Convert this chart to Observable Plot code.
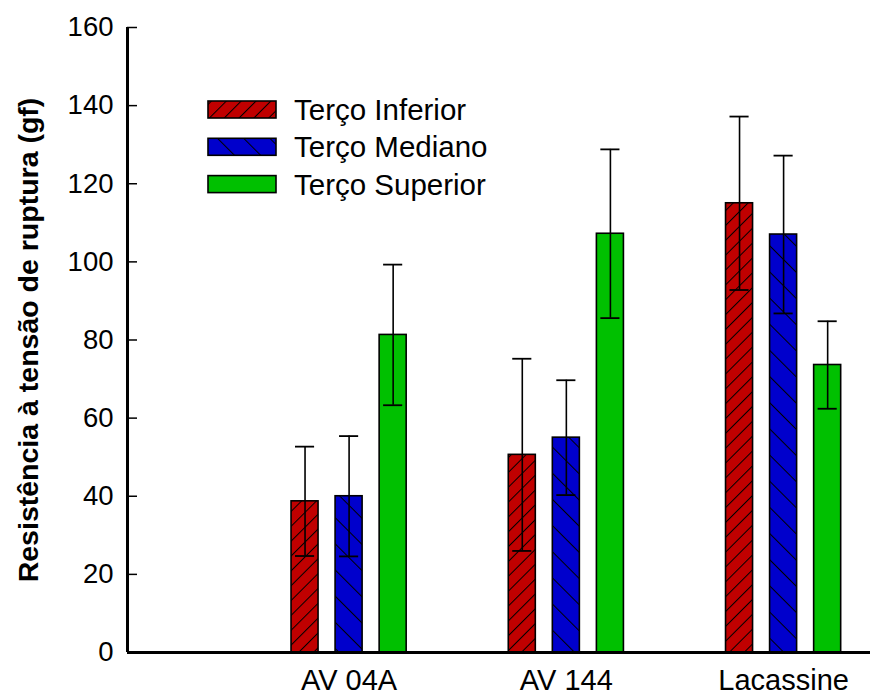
<!DOCTYPE html>
<html>
<head>
<meta charset="utf-8">
<script src="https://cdn.jsdelivr.net/npm/d3@7"></script>
<script src="https://cdn.jsdelivr.net/npm/@observablehq/plot@0.6"></script>
<style>
  html, body { margin: 0; padding: 0; background: #fff; }
  #chart { width: 870px; height: 696px; }
</style>
</head>
<body>
<div id="chart"></div>
<script>
// Cultivars (x groups) and position on the panicle (series)
const groups = ["AV 04A", "AV 144", "Lacassine"];
const series = ["Terço Inferior", "Terço Mediano", "Terço Superior"];

// Mean breaking tension (gf) and its deviation, per series, in group order
const inferior = [38.7, 50.6, 115.0];
const inferiorErr = [14.0, 24.6, 22.2];
const mediano = [40.0, 55.0, 107.0];
const medianoErr = [15.4, 14.7, 20.2];
const superior = [81.3, 107.2, 73.6];
const superiorErr = [18.0, 21.6, 11.2];

const yTicks = [0, 20, 40, 60, 80, 100, 120, 140, 160];
const yLabel = "Resistência à tensão de ruptura (gf)";

// Fill colours / hatch patterns per series
const seriesColors = ["#c00000", "#0000cc", "#00c000"];
const seriesFills = ["url(#hatch-inferior)", "url(#hatch-mediano)", "#00c000"];

// Layout (in group units along x)
const barStep = 0.2028;
const barWidth = 0.1244;
const capHalf = 0.044;
const xDomain = [-0.02, 3.40];

const means = [inferior, mediano, superior];
const errs = [inferiorErr, medianoErr, superiorErr];

const rows = [];
series.forEach((s, si) => {
  groups.forEach((g, gi) => {
    const c = gi + 1 + (si - 1) * barStep;
    rows.push({
      series: s, si, group: g,
      value: means[si][gi], err: errs[si][gi],
      x1: c - barWidth / 2, x2: c + barWidth / 2, xc: c,
      lo: means[si][gi] - errs[si][gi], hi: means[si][gi] + errs[si][gi]
    });
  });
});

const font = "'Liberation Sans', Arial, Helvetica, sans-serif";

const barMarks = series.map((s, si) =>
  Plot.rectY(rows.filter(d => d.si === si), {
    x1: "x1", x2: "x2", y1: 0, y2: "value",
    fill: seriesFills[si], stroke: "#000", strokeWidth: 1.6
  })
);

const plot = Plot.plot({
  width: 870,
  height: 696,
  marginLeft: 127,
  marginRight: 0,
  marginTop: 27,
  marginBottom: 44,
  style: { fontFamily: font, fontSize: "27px", color: "#000", background: "#fff" },
  x: { domain: xDomain, axis: null },
  y: { domain: [0, 160], axis: null },
  marks: [
    ...barMarks,
    // error bars
    Plot.ruleX(rows, { x: "xc", y1: "lo", y2: "hi", stroke: "#000", strokeWidth: 1.6 }),
    Plot.ruleY(rows, { y: "hi", x1: d => d.xc - capHalf, x2: d => d.xc + capHalf, stroke: "#000", strokeWidth: 1.8 }),
    Plot.ruleY(rows, { y: "lo", x1: d => d.xc - capHalf, x2: d => d.xc + capHalf, stroke: "#000", strokeWidth: 1.8 }),
    // y axis: inward ticks, then labels
    Plot.axisY({ ticks: yTicks, tickSize: -10, tickFormat: () => "", strokeWidth: 1.5, label: null }),
    Plot.axisY({ ticks: yTicks, tickSize: 0, tickPadding: 14, fontSize: 27.5, label: null }),
    // x axis labels at group centres
    Plot.axisX({ ticks: [1, 2, 3], tickFormat: i => groups[i - 1], tickSize: 0, tickPadding: 17, fontSize: 29, label: null }),
    // axis lines
    Plot.ruleY([0], { stroke: "#000", strokeWidth: 3 }),
    Plot.ruleX([xDomain[0]], { stroke: "#000", strokeWidth: 3 }),
    // y axis title
    Plot.text([yLabel], {
      frameAnchor: "left", textAnchor: "middle", rotate: -90, dx: -99,
      fontSize: 28.5, fontWeight: "bold", fill: "#000"
    })
  ]
});

// Hatch patterns for the lower and middle thirds
const svg = d3.select(plot);
const defs = svg.insert("defs", ":first-child");
function hatch(id, color, spacing, angle) {
  const p = defs.append("pattern")
    .attr("id", id)
    .attr("patternUnits", "userSpaceOnUse")
    .attr("width", spacing)
    .attr("height", spacing)
    .attr("patternTransform", `rotate(${angle})`);
  p.append("rect").attr("width", spacing).attr("height", spacing).attr("fill", color);
  p.append("line").attr("x1", 0).attr("y1", 0).attr("x2", 0).attr("y2", spacing)
    .attr("stroke", "#000").attr("stroke-width", 2.0);
}
hatch("hatch-inferior", seriesColors[0], 10.5, 45);
hatch("hatch-mediano", seriesColors[1], 18.5, -45);

// Legend
const legend = svg.append("g").attr("class", "legend").attr("text-anchor", "start");
series.forEach((s, si) => {
  const y = 101 + si * 37.3;
  legend.append("rect")
    .attr("x", 208).attr("y", y).attr("width", 68).attr("height", 17)
    .attr("fill", seriesFills[si]).attr("stroke", "#000").attr("stroke-width", 1.6);
  legend.append("text")
    .attr("x", 294).attr("y", y + 8.5).attr("dy", "0.36em")
    .attr("text-anchor", "start")
    .attr("font-family", font).attr("font-size", 29.5).attr("fill", "#000")
    .text(s);
});

document.getElementById("chart").appendChild(plot);
</script>
</body>
</html>
